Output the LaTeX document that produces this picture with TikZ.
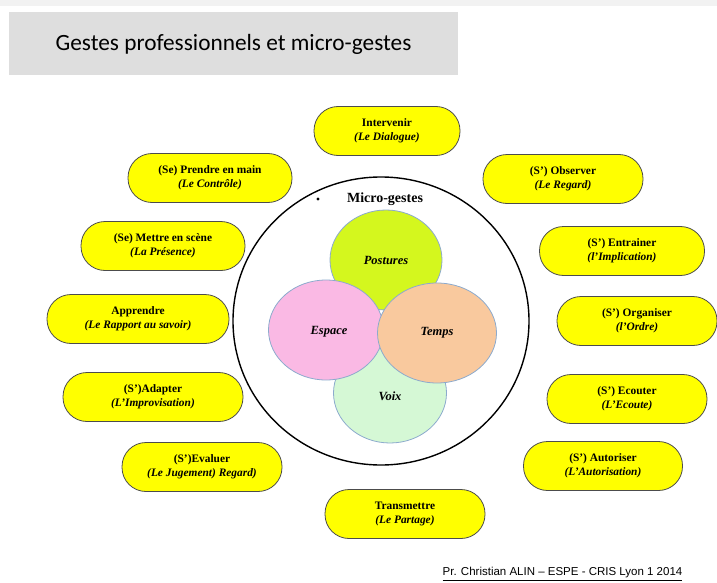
\documentclass[tikz,border=0pt]{standalone}
\usepackage{fontspec}
\setmainfont{Liberation Serif}
\newfontfamily\titlefont{Carlito}
\newfontfamily\footfont{Liberation Sans}
\usepackage{tikz}
\usetikzlibrary{shapes.geometric}

\definecolor{titlegray}{HTML}{DEDEDE}
\definecolor{pillyellow}{HTML}{FFFF00}
\definecolor{posturesgreen}{HTML}{D4F71E}
\definecolor{espacepink}{HTML}{FAB9E4}
\definecolor{tempspeach}{HTML}{F9C99E}
\definecolor{voixmint}{HTML}{D5F8D5}
\definecolor{petalblue}{HTML}{8CAACD}

\tikzset{
  geste/.style={draw=black!70, fill=pillyellow, line width=0.8pt,
    rounded corners=24pt, minimum height=49pt, inner sep=0pt,
    align=center, font=\fontsize{11.4}{14.2}\selectfont\bfseries},
  petal/.style={ellipse, draw=petalblue, line width=0.8pt, inner sep=0pt,
    font=\fontsize{12.5}{14}\selectfont\bfseries\itshape},
}

\begin{document}
\begin{tikzpicture}[x=1pt,y=-1pt]
  \useasboundingbox (0,0) rectangle (717,583);
  % Top shadow and title box
  \fill[black!5] (0,0) rectangle (717,6);
  \node[fill=titlegray, minimum width=449pt, minimum height=63pt, inner sep=0pt,
    font=\titlefont\fontsize{23.3}{26}\selectfont] (title) at (233.5,44)
    {Gestes professionnels et micro-gestes};
  % Big circle with the micro-gestes
  \draw[line width=1.4pt] (381,321) ellipse (148 and 144);
  \fill (318,199) circle (1.6);
  \node[font=\fontsize{14}{16}\selectfont\bfseries] (micro) at (385,199) {Micro-gestes};
  \node[petal, fill=posturesgreen, minimum width=112pt, minimum height=100pt] (postures) at (386,260) {Postures};
  \node[petal, fill=voixmint, minimum width=113pt, minimum height=100pt] (voix) at (390,393) {};
  \node[font=\fontsize{12.5}{14}\selectfont\bfseries\itshape] (voixtext) at (390,396) {Voix};
  \node[petal, fill=espacepink, minimum width=115pt, minimum height=100pt] (espace) at (326,330) {};
  \node[petal, fill=tempspeach, minimum width=119pt, minimum height=100pt] (temps) at (437,333) {Temps};
  \node[font=\fontsize{12.5}{14}\selectfont\bfseries\itshape] (espacetext) at (329,332) {Espace};
  % Gestes, left side
  \node[geste, minimum width=146pt] (intervenir) at (387,131) {Intervenir\\\textit{(Le Dialogue)}};
  \node[geste, minimum width=164pt] (prendre) at (210,178) {(Se) Prendre en main\\\textit{(Le Contrôle)}};
  \node[geste, minimum width=164pt] (mettre) at (163,246) {(Se) Mettre en scène\\\textit{(La Présence)}};
  \node[geste, minimum width=182pt] (apprendre) at (138,319) {Apprendre\\\textit{(Le Rapport au savoir)}};
  \node[geste, minimum width=180pt] (adapter) at (153,397) {(S’)Adapter\\\textit{(L’Improvisation)}};
  \node[geste, minimum width=160pt] (evaluer) at (202,467) {(S’)Evaluer\\\textit{(Le Jugement) Regard)}};
  % Gestes, right side
  \node[geste, minimum width=160pt] (observer) at (563,179) {(S’) Observer\\\textit{(Le Regard)}};
  \node[geste, minimum width=165pt] (entrainer) at (622,251) {(S’) Entrainer\\\textit{(l’Implication)}};
  \node[geste, minimum width=160pt] (organiser) at (637,321) {(S’) Organiser\\\textit{(l’Ordre)}};
  \node[geste, minimum width=160pt] (ecouter) at (627,399) {(S’) Ecouter\\\textit{(L’Ecoute)}};
  \node[geste, minimum width=159pt] (autoriser) at (603,466) {(S’) Autoriser\\\textit{(L’Autorisation)}};
  \node[geste, minimum width=160pt] (transmettre) at (405,514) {Transmettre\\\textit{(Le Partage)}};
  % Footer
  \node[font=\footfont\fontsize{11.5}{13}\selectfont] (footer) at (562.5,574)
    {\underline{Pr. Christian ALIN – ESPE - CRIS Lyon 1 2014}};
\end{tikzpicture}
\end{document}
